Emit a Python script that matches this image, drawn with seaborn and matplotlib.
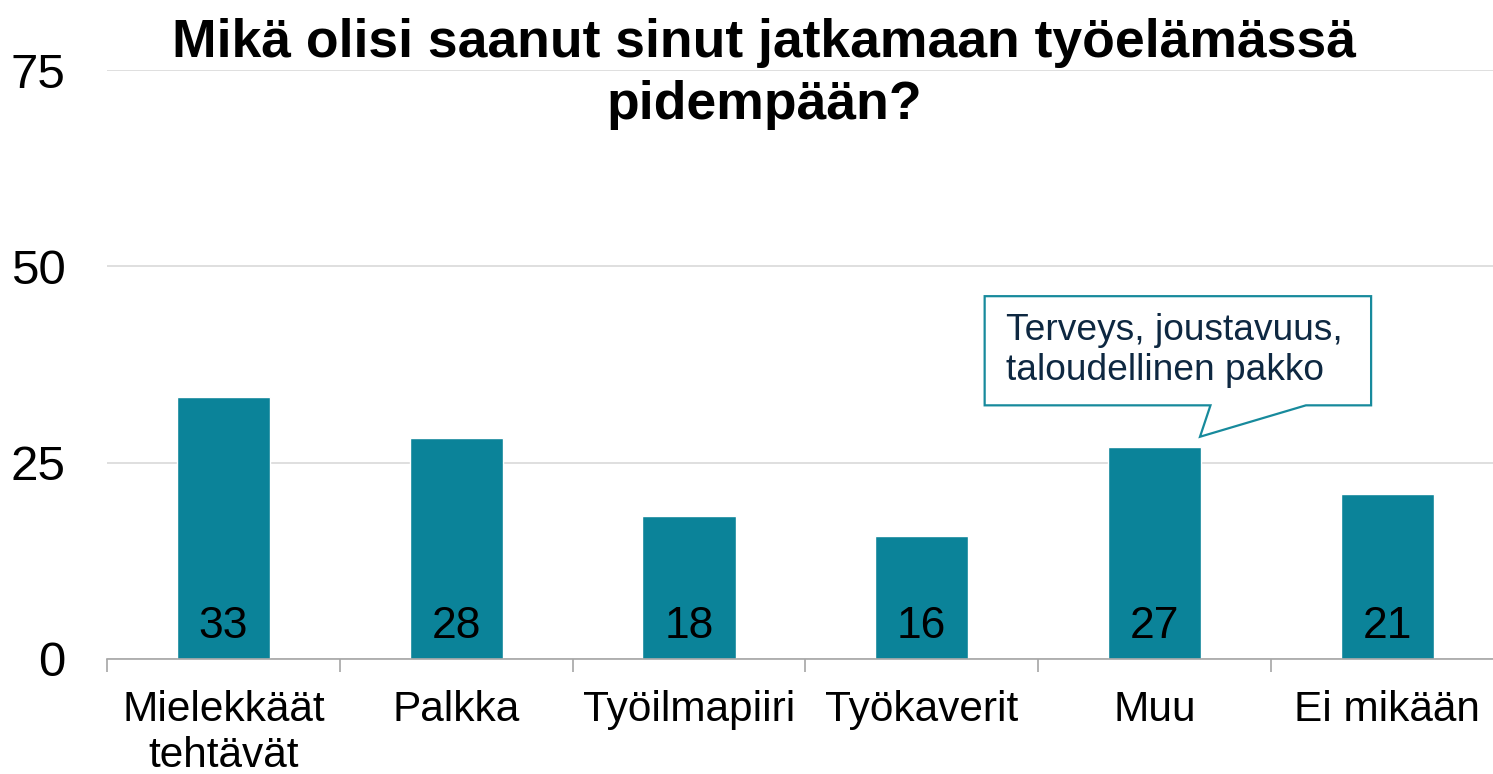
import numpy as np
import pandas as pd
import seaborn as sns
import matplotlib.pyplot as plt
from matplotlib.patches import Polygon
from matplotlib.ticker import FixedLocator

# Data
categories = ["Mielekkäät\ntehtävät", "Palkka", "Työilmapiiri", "Työkaverit", "Muu", "Ei mikään"]
values = [33.4, 28.2, 18.2, 15.7, 27.0, 21.0]
labels = ["33", "28", "18", "16", "27", "21"]
yticks = [0, 25, 50, 75]
title = "Mikä olisi saanut sinut jatkamaan työelämässä\npidempään?"
note = "Terveys, joustavuus,\ntaloudellinen pakko"

BAR = "#0B8399"
NAVY = "#0E2841"

sns.set_theme(style="white")
plt.rcParams['font.family'] = ['Liberation Sans', 'DejaVu Sans']

fig = plt.figure(figsize=(14.93, 7.74), dpi=100)
ax = fig.add_axes([107 / 1493, 115 / 774, 6 * 232.8 / 1493, 589 / 774])

df = pd.DataFrame({"cat": categories, "val": values})
sns.barplot(data=df, x="cat", y="val", color=BAR, saturation=1, width=0.4, ax=ax)

ax.set_ylim(0, 75)
ax.set_xlim(-0.5, len(categories) - 0.5)
ax.set_yticks(yticks)
ax.yaxis.grid(True, color="#D9D9D9", linewidth=1.2)
ax.set_axisbelow(True)
ax.set_xlabel("")
ax.set_ylabel("")

for s in ["left", "right", "top"]:
    ax.spines[s].set_visible(False)
ax.spines["bottom"].set_color("#A6A6A6")
ax.spines["bottom"].set_linewidth(1.2)

ax.tick_params(axis="y", length=0, pad=30, labelsize=35.5, labelcolor="black")
ax.tick_params(axis="x", which="major", length=0, pad=22, labelsize=30.5, labelcolor="black")
ax.xaxis.set_minor_locator(FixedLocator(np.arange(-0.5, len(categories), 1)))
ax.tick_params(axis="x", which="minor", bottom=True, length=9, width=1.2, color="#A6A6A6", direction="out")
for t in ax.get_xticklabels():
    t.set_linespacing(1.22)

# value labels at the foot of each bar
for i, lab in enumerate(labels):
    ax.text(i, 2.7, lab, ha="center", va="baseline", fontsize=32, color="black")

# callout box for "Muu"
callout = Polygon([(3.27, 46.2), (4.93, 46.2), (4.93, 32.3), (4.65, 32.3),
                   (4.195, 28.3), (4.24, 32.3), (3.27, 32.3)],
                  closed=True, facecolor="white", edgecolor="#178A9C", linewidth=1.6,
                  clip_on=False, zorder=5)
ax.add_patch(callout)
ax.text(3.36, 39.3, note, ha="left", va="center", fontsize=26.7, color=NAVY,
        linespacing=1.2, zorder=6)

fig.text(0.512, 0.977, title, ha="center", va="top", fontsize=38.5, fontweight="bold",
         color="black", linespacing=1.3)

fig.savefig("out.png", dpi=100)
